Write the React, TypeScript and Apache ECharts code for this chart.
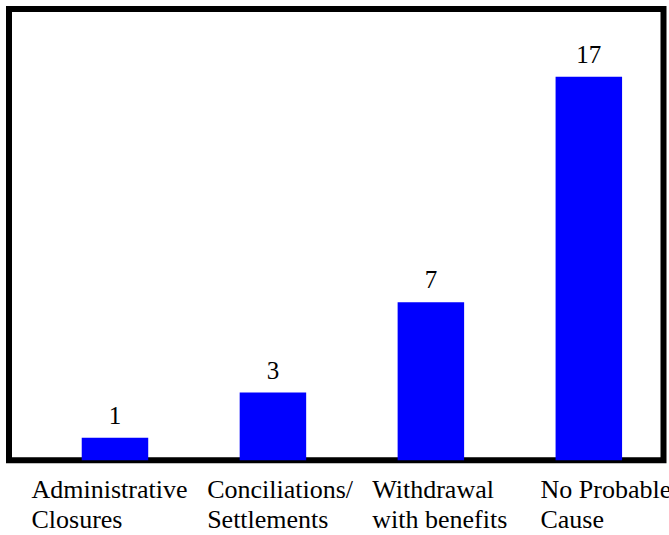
import React, { useEffect, useRef } from "react";
import * as echarts from "echarts";

const categories = [
  "Administrative\nClosures",
  "Conciliations/\nSettlements",
  "Withdrawal\nwith benefits",
  "No Probable\nCause",
];
const values = [1, 3, 7, 17];
const yMax = 20;

const FONT = "Liberation Serif, Times New Roman, serif";

export default function App() {
  const ref = useRef<HTMLDivElement>(null);
  useEffect(() => {
    if (!ref.current) return;
    const chart = echarts.init(ref.current, null, { renderer: "svg" });
    const pads = [
      [0, 11, 0, 0],
      [0, 0, 0, 14.3],
      [0, 0, 0, 17.8],
      [0, 0, 0, 34],
    ];
    const rich: Record<string, any> = {};
    pads.forEach((p, i) => {
      rich["r" + i] = {
        fontFamily: FONT,
        fontSize: 26,
        lineHeight: 30,
        color: "#000",
        align: "left",
        padding: p,
      };
    });
    chart.setOption({
      animation: false,
      backgroundColor: "#fff",
      textStyle: { fontFamily: FONT },
      graphic: [
        {
          type: "rect",
          z: 0,
          shape: { x: 9, y: 9, width: 654.5, height: 451.3 },
          style: { fill: "none", stroke: "#000", lineWidth: 6 },
        },
      ],
      grid: {
        left: 36,
        right: 1.2,
        top: 9,
        bottom: 74.7,
        containLabel: false,
        outerBoundsMode: "none",
      },
      xAxis: {
        type: "category",
        data: categories,
        axisLine: { show: false },
        axisTick: { show: false },
        axisLabel: {
          interval: 0,
          margin: 14,
          align: "center",
          fontFamily: FONT,
          fontSize: 26,
          formatter: (val: string, idx: number) =>
            val
              .split("\n")
              .map((l) => `{r${idx}|${l}}`)
              .join("\n"),
          rich,
        },
      },
      yAxis: {
        type: "value",
        min: 0,
        max: yMax,
        show: false,
        splitLine: { show: false },
      },
      series: [
        {
          type: "bar",
          data: values,
          barWidth: 66.5,
          itemStyle: { color: "#0000FF" },
          label: {
            show: true,
            position: "top",
            distance: 10,
            fontFamily: FONT,
            fontSize: 25,
            color: "#000",
          },
        },
      ],
    });
    return () => chart.dispose();
  }, []);
  return (
    <div
      ref={ref}
      style={{ position: "absolute", left: 0, top: 0, width: 669, height: 535 }}
    />
  );
}
